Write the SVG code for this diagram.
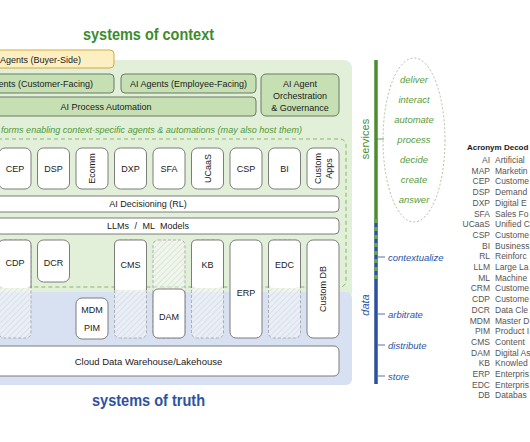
<svg xmlns="http://www.w3.org/2000/svg" width="530" height="442" viewBox="0 0 530 442">
<defs>
<pattern id="hatch" width="4" height="4" patternUnits="userSpaceOnUse" patternTransform="rotate(45)">
<rect width="4" height="4" fill="#ffffff" fill-opacity="0.45"/>
<line x1="0" y1="0" x2="0" y2="4" stroke="#cfcfcf" stroke-width="1"/>
</pattern>
<style>
text{font-family:"Liberation Sans",Arial,sans-serif;}
.lbl{font-size:9px;fill:#1a1a1a;text-anchor:middle;}
.agent{fill:#c6e0b4;stroke:#6b7b62;stroke-width:1;}
.buyer{fill:#fcf0c3;stroke:#d7a93a;stroke-width:1;}
.box{fill:#ffffff;stroke:#7d7d7d;stroke-width:1;}
.side{fill:none;stroke:#7d7d7d;stroke-width:1;}
.hatch{fill:url(#hatch);stroke:#a8a8a8;stroke-width:0.9;stroke-dasharray:3 2;}
.plat{fill:none;stroke:#86b865;stroke-width:1;stroke-dasharray:4 3;}
.title{font-size:16px;font-weight:bold;text-anchor:middle;}
.svc{font-size:9.5px;font-style:italic;fill:#5b9b3c;text-anchor:middle;}
.dat{font-size:9.5px;font-style:italic;fill:#2c53a3;}
.ab{font-size:8.5px;fill:#555555;text-anchor:end;}
.ds{font-size:8.5px;fill:#555555;}
</style>
</defs>
<rect width="530" height="442" fill="#ffffff"/>

<g id="panels">
<rect x="-20" y="60" width="372" height="240" rx="8" fill="#e2efd9"/>
<rect x="-20" y="292" width="372" height="93" rx="6" fill="#d7e1f2"/>
</g>

<g id="title-context"><text class="title" x="148.5" y="40" fill="#3e8b2c" textLength="131" lengthAdjust="spacingAndGlyphs">systems of context</text></g>
<g id="title-truth"><text class="title" x="148.5" y="406" fill="#2c53a3" textLength="113" lengthAdjust="spacingAndGlyphs">systems of truth</text></g>

<g id="buyer-agents"><rect class="buyer" x="-50" y="50" width="164" height="18" rx="4"/><text class="lbl" x="81" y="62.5" style="text-anchor:end">Agents (Buyer-Side)</text></g>
<g id="customer-agents"><rect class="agent" x="-50" y="74" width="164" height="19" rx="4"/><text class="lbl" x="93" y="87" style="text-anchor:end">ents (Customer-Facing)</text></g>
<g id="employee-agents"><rect class="agent" x="121" y="74" width="135" height="19" rx="4"/><text class="lbl" x="188.5" y="87">AI Agents (Employee-Facing)</text></g>
<g id="orchestration"><rect class="agent" x="261" y="74" width="78" height="42" rx="5"/><text class="lbl" x="300" y="86.5">AI Agent</text><text class="lbl" x="300" y="98.5">Orchestration</text><text class="lbl" x="300" y="110.5">&amp; Governance</text></g>
<g id="process-automation"><rect class="agent" x="-50" y="97" width="306" height="19" rx="4"/><text class="lbl" x="106" y="110">AI Process Automation</text></g>

<g id="platforms">
<rect class="plat" x="-50" y="139" width="396" height="148" rx="6"/>
<text x="1" y="133" textLength="301" lengthAdjust="spacingAndGlyphs" style="font-size:9.5px;font-style:italic;fill:#4f9a35">forms enabling context-specific agents &amp; automations (may also host them)</text>
</g>

<g id="cep"><rect class="box" x="-1" y="148" width="32" height="41" rx="6"/><text class="lbl" x="15" y="171.5">CEP</text></g>
<g id="dsp"><rect class="box" x="37.5" y="148" width="32" height="41" rx="6"/><text class="lbl" x="53.5" y="171.5">DSP</text></g>
<g id="ecomm"><rect class="box" x="76" y="148" width="32" height="41" rx="6"/><text class="lbl" transform="translate(92,168.5) rotate(-90)" y="3">Ecomm</text></g>
<g id="dxp"><rect class="box" x="114.5" y="148" width="32" height="41" rx="6"/><text class="lbl" x="130.5" y="171.5">DXP</text></g>
<g id="sfa"><rect class="box" x="153" y="148" width="32" height="41" rx="6"/><text class="lbl" x="169" y="171.5">SFA</text></g>
<g id="ucaas"><rect class="box" x="191.5" y="148" width="32" height="41" rx="6"/><text class="lbl" transform="translate(207.5,168.5) rotate(-90)" y="3">UCaaS</text></g>
<g id="csp"><rect class="box" x="230" y="148" width="32" height="41" rx="6"/><text class="lbl" x="246" y="171.5">CSP</text></g>
<g id="bi"><rect class="box" x="268.5" y="148" width="32" height="41" rx="6"/><text class="lbl" x="284.5" y="171.5">BI</text></g>
<g id="custom-apps"><rect class="box" x="307" y="148" width="32" height="41" rx="6"/><text class="lbl" transform="translate(318,168.5) rotate(-90)" y="3">Custom</text><text class="lbl" transform="translate(329,168.5) rotate(-90)" y="3">Apps</text></g>

<g id="ai-decisioning"><rect class="box" x="-50" y="196" width="389" height="16" rx="4"/><text class="lbl" x="148" y="207.3">AI Decisioning (RL)</text></g>
<g id="llms"><rect class="box" x="-50" y="218" width="389" height="16" rx="4"/><text class="lbl" x="148" y="229.3" style="word-spacing:3px">LLMs / ML Models</text></g>

<g id="cdp"><rect class="hatch" x="-1" y="240" width="32" height="98" rx="5"/><rect x="-1" y="240" width="32" height="48" rx="5" fill="#ffffff"/><path class="side" d="M-1,288 V245 Q-1,240 4,240 H26 Q31,240 31,245 V288"/><text class="lbl" x="15" y="265.5">CDP</text></g>
<g id="dcr"><rect class="box" x="37.5" y="240" width="32" height="42" rx="6"/><text class="lbl" x="53.5" y="265.5">DCR</text></g>
<g id="mdm-pim"><rect class="box" x="76" y="298" width="32" height="41" rx="6"/><text class="lbl" x="92" y="312.5">MDM</text><text class="lbl" x="92" y="331">PIM</text></g>
<g id="cms"><rect class="hatch" x="114.5" y="240" width="32" height="98" rx="5"/><rect x="114.5" y="240" width="32" height="50" rx="5" fill="#ffffff"/><path class="side" d="M114.5,290 V245 Q114.5,240 119.5,240 H141.5 Q146.5,240 146.5,245 V290"/><text class="lbl" x="130.5" y="267.5">CMS</text></g>
<g id="dam"><rect class="hatch" x="153" y="240" width="32" height="98" rx="5"/><rect class="box" x="153" y="289" width="32" height="49" rx="5"/><text class="lbl" x="169" y="319.5">DAM</text></g>
<g id="kb"><rect class="hatch" x="191.5" y="240" width="32" height="98" rx="5"/><rect x="191.5" y="240" width="32" height="48" rx="5" fill="#ffffff"/><path class="side" d="M191.5,288 V245 Q191.5,240 196.5,240 H218.5 Q223.5,240 223.5,245 V288"/><text class="lbl" x="207.5" y="267.5">KB</text></g>
<g id="erp"><rect class="box" x="230" y="240" width="32" height="98" rx="6"/><text class="lbl" x="246" y="295.5">ERP</text></g>
<g id="edc"><rect class="hatch" x="268.5" y="240" width="32" height="98" rx="5"/><rect x="268.5" y="240" width="32" height="48" rx="5" fill="#ffffff"/><path class="side" d="M268.5,288 V245 Q268.5,240 273.5,240 H295.5 Q300.5,240 300.5,245 V288"/><text class="lbl" x="284.5" y="267.5">EDC</text></g>
<g id="custom-db"><rect class="box" x="307" y="240" width="32" height="98" rx="6"/><text class="lbl" transform="translate(323,289) rotate(-90)" y="3">Custom DB</text></g>

<g id="cloud-dw"><rect class="box" x="-50" y="346" width="389" height="30" rx="5"/><text class="lbl" x="148.5" y="364.5" style="font-size:9.5px">Cloud Data Warehouse/Lakehouse</text></g>

<g id="axis">
<line x1="376" y1="60" x2="376" y2="219" stroke="#4d8c2f" stroke-width="3.5"/>
<line x1="376" y1="219" x2="376" y2="384" stroke="#2a4f9c" stroke-width="3.5"/>
<line x1="376" y1="219" x2="376" y2="279" stroke="#6aa84f" stroke-width="3.5" stroke-dasharray="4 4"/>
<text transform="translate(365,139) rotate(-90)" y="4" style="font-size:11px;fill:#4d8c2f;text-anchor:middle">services</text>
<text transform="translate(365,305) rotate(-90)" y="4" style="font-size:11px;font-style:italic;fill:#2c53a3;text-anchor:middle">data</text>
</g>

<g id="connectors">
<line x1="377" y1="139" x2="384" y2="139" stroke="#4d8c2f" stroke-width="0.8"/>
<line x1="378" y1="257" x2="385" y2="257" stroke="#2a4f9c" stroke-width="0.8"/>
<line x1="378" y1="314" x2="385" y2="314" stroke="#2a4f9c" stroke-width="0.8"/>
<line x1="378" y1="345" x2="385" y2="345" stroke="#2a4f9c" stroke-width="0.8"/>
<line x1="378" y1="376" x2="385" y2="376" stroke="#2a4f9c" stroke-width="0.8"/>
</g>

<g id="service-verbs">
<ellipse cx="414" cy="140" rx="31" ry="82" fill="none" stroke="#98b092" stroke-width="0.8" stroke-dasharray="2 2"/>
<text class="svc" x="414" y="82.5">deliver</text>
<text class="svc" x="414" y="103">interact</text>
<text class="svc" x="414" y="123">automate</text>
<text class="svc" x="414" y="143">process</text>
<text class="svc" x="414" y="162.5">decide</text>
<text class="svc" x="414" y="182.5">create</text>
<text class="svc" x="414" y="202.5">answer</text>
</g>

<g id="data-verbs">
<text class="dat" x="388" y="260.5">contextualize</text>
<text class="dat" x="388" y="317.5">arbitrate</text>
<text class="dat" x="388" y="348.5">distribute</text>
<text class="dat" x="388" y="379.5">store</text>
</g>

<g id="acronym-decoder">
<text x="467" y="150" style="font-size:8px;font-weight:bold;fill:#1a1a1a">Acronym Decod</text>
<text class="ab" x="490" y="163">AI</text><text class="ds" x="495" y="163">Artificial</text>
<text class="ab" x="490" y="173.7">MAP</text><text class="ds" x="495" y="173.7">Marketin</text>
<text class="ab" x="490" y="184.4">CEP</text><text class="ds" x="495" y="184.4">Custome</text>
<text class="ab" x="490" y="195.1">DSP</text><text class="ds" x="495" y="195.1">Demand</text>
<text class="ab" x="490" y="205.8">DXP</text><text class="ds" x="495" y="205.8">Digital E</text>
<text class="ab" x="490" y="216.5">SFA</text><text class="ds" x="495" y="216.5">Sales Fo</text>
<text class="ab" x="490" y="227.2">UCaaS</text><text class="ds" x="495" y="227.2">Unified C</text>
<text class="ab" x="490" y="237.9">CSP</text><text class="ds" x="495" y="237.9">Custome</text>
<text class="ab" x="490" y="248.6">BI</text><text class="ds" x="495" y="248.6">Business</text>
<text class="ab" x="490" y="259.3">RL</text><text class="ds" x="495" y="259.3">Reinforc</text>
<text class="ab" x="490" y="270">LLM</text><text class="ds" x="495" y="270">Large La</text>
<text class="ab" x="490" y="280.7">ML</text><text class="ds" x="495" y="280.7">Machine</text>
<text class="ab" x="490" y="291.4">CRM</text><text class="ds" x="495" y="291.4">Custome</text>
<text class="ab" x="490" y="302.1">CDP</text><text class="ds" x="495" y="302.1">Custome</text>
<text class="ab" x="490" y="312.8">DCR</text><text class="ds" x="495" y="312.8">Data Cle</text>
<text class="ab" x="490" y="323.5">MDM</text><text class="ds" x="495" y="323.5">Master D</text>
<text class="ab" x="490" y="334.2">PIM</text><text class="ds" x="495" y="334.2">Product I</text>
<text class="ab" x="490" y="344.9">CMS</text><text class="ds" x="495" y="344.9">Content</text>
<text class="ab" x="490" y="355.6">DAM</text><text class="ds" x="495" y="355.6">Digital As</text>
<text class="ab" x="490" y="366.3">KB</text><text class="ds" x="495" y="366.3">Knowled</text>
<text class="ab" x="490" y="377">ERP</text><text class="ds" x="495" y="377">Enterpris</text>
<text class="ab" x="490" y="387.7">EDC</text><text class="ds" x="495" y="387.7">Enterpris</text>
<text class="ab" x="490" y="398.4">DB</text><text class="ds" x="495" y="398.4">Databas</text>
</g>
</svg>
